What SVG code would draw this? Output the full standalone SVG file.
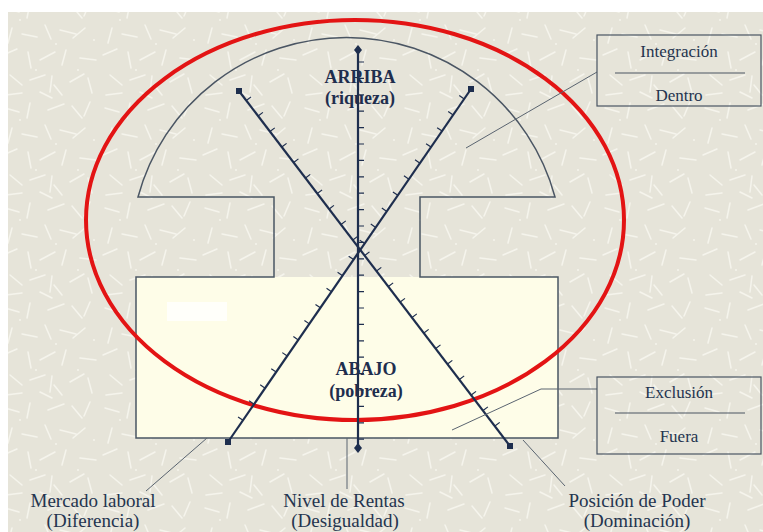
<svg xmlns="http://www.w3.org/2000/svg" width="763" height="532" viewBox="0 0 763 532">
<defs>
<pattern id="tex" width="100" height="100" patternUnits="userSpaceOnUse">
<rect width="100" height="100" fill="#E6E4D9"/>
<g stroke="#F7F6EF" stroke-width="1.5" stroke-linecap="round" opacity="0.9">
<path d="M5 8l14 4M30 3l-3 15M48 10l16 -6M72 6l10 12M90 2l-6 14M12 28l-4 15M22 34l15 3M45 25l6 14M60 30l16 4M85 28l-12 10M3 55l14 -6M28 52l3 16M40 60l15 -8M66 50l-4 15M80 58l16 2M10 75l12 10M30 80l15 -5M52 76l-2 16M70 82l14 -8M88 78l4 15M6 95l16 -2M40 92l12 6M62 95l-8 -10"/>
</g>
<g fill="#F7F6EF">
<circle cx="20" cy="20" r="0.9"/><circle cx="56" cy="44" r="0.9"/><circle cx="78" cy="70" r="0.9"/><circle cx="36" cy="70" r="0.9"/><circle cx="94" cy="40" r="0.9"/>
</g>
</pattern>
<style>
.frame{fill:none;stroke:#4A5563;stroke-width:1.5}
.axis{fill:none;stroke:#1E2E4E;stroke-width:2.2}
.tick{fill:none;stroke:#1E2E4E;stroke-width:1.2}
.end{fill:#1E2E4E}
.lead{fill:none;stroke:#5A6470;stroke-width:1}
.box{fill:none;stroke:#4A5563;stroke-width:1.2}
.t{font-family:"Liberation Serif","Times New Roman",serif;fill:#24344F;text-anchor:middle}
.b{font-weight:bold;font-size:18px;fill:#1E2E4E}
.s{font-size:17px}
.l{font-size:19px}
</style>
</defs>
<rect width="763" height="532" fill="#FFFFFF"/>
<rect x="8" y="12" width="755" height="520" fill="url(#tex)"/>

<g id="frame">
<rect x="136" y="277" width="422" height="161" fill="#FEFDE8"/>
<rect x="167" y="302" width="60" height="19" fill="#FFFFFA"/>
<path class="frame" d="M138 197 A216 216 0 0 1 555 197 L420 197 L420 277 L558 277 L558 438 L136 438 L136 277 L274 277 L274 197 Z"/>
</g>

<g id="red-ellipse">
<ellipse cx="355" cy="220" rx="269" ry="200" fill="none" stroke="#E31414" stroke-width="4"/>
</g>

<g id="axis-vertical">
<line class="axis" x1="358" y1="50" x2="358" y2="448" stroke-width="1.8"/>
<path class="tick" d="M358 62h6m-6 16.4h6m-6 16.4h6m-6 16.4h6m-6 16.4h6m-6 16.4h6m-6 16.4h6m-6 16.4h6m-6 16.4h6m-6 16.4h6m-6 16.4h6m-6 16.4h6m-6 16.4h6m-6 16.4h6m-6 16.4h6m-6 16.4h6m-6 16.4h6m-6 16.4h6m-6 16.4h6m-6 16.4h6m-6 16.4h6m-6 16.4h6m-6 16.4h6m-6 16.4h6"/>
<polygon class="end" points="358,45 362,50 358,55 354,50"/>
<polygon class="end" points="358,443 362,448 358,453 354,448"/>
</g>

<g id="axis-diagonal-1">
<line class="axis" x1="239" y1="91" x2="510" y2="446"/>
<path class="tick" d="M246.3 100.5l4.77 -3.64m7.07 19.14l4.77 -3.64m7.07 19.14l4.77 -3.64m7.07 19.14l4.77 -3.64m7.07 19.14l4.77 -3.64m7.07 19.14l4.77 -3.64m7.07 19.14l4.77 -3.64m7.07 19.14l4.77 -3.64m7.07 19.14l4.77 -3.64m7.07 19.14l4.77 -3.64m7.07 19.14l4.77 -3.64m7.07 19.14l4.77 -3.64m7.07 19.14l4.77 -3.64m7.07 19.14l4.77 -3.64m7.07 19.14l4.77 -3.64m7.07 19.14l4.77 -3.64m7.07 19.14l4.77 -3.64m7.07 19.14l4.77 -3.64m7.07 19.14l4.77 -3.64m7.07 19.14l4.77 -3.64m7.07 19.14l4.77 -3.64m7.07 19.14l4.77 -3.64"/>
<rect class="end" x="236" y="88" width="6" height="6"/>
<rect class="end" x="507" y="443" width="6" height="6"/>
</g>

<g id="axis-diagonal-2">
<line class="axis" x1="471" y1="89" x2="228" y2="442"/>
<path class="tick" d="M464.2 98.9l-4.94 -3.4m-6.12 19.47l-4.94 -3.4m-6.12 19.47l-4.94 -3.4m-6.12 19.47l-4.94 -3.4m-6.12 19.47l-4.94 -3.4m-6.12 19.47l-4.94 -3.4m-6.12 19.47l-4.94 -3.4m-6.12 19.47l-4.94 -3.4m-6.12 19.47l-4.94 -3.4m-6.12 19.47l-4.94 -3.4m-6.12 19.47l-4.94 -3.4m-6.12 19.47l-4.94 -3.4m-6.12 19.47l-4.94 -3.4m-6.12 19.47l-4.94 -3.4m-6.12 19.47l-4.94 -3.4m-6.12 19.47l-4.94 -3.4m-6.12 19.47l-4.94 -3.4m-6.12 19.47l-4.94 -3.4m-6.12 19.47l-4.94 -3.4m-6.12 19.47l-4.94 -3.4m-6.12 19.47l-4.94 -3.4"/>
<rect class="end" x="468" y="86" width="6" height="6"/>
<rect class="end" x="225" y="439" width="6" height="6"/>
</g>

<g id="connectors">
<path class="lead" d="M597 72 L466 148"/>
<path class="lead" d="M597 389 L541 389 L452 430"/>
<path class="lead" d="M207 438 L146 491"/>
<path class="lead" d="M347 438 L347 489"/>
<path class="lead" d="M523 440 L565 486"/>
</g>

<g id="arriba">
<text class="t b" x="360" y="83">ARRIBA</text>
<text class="t b" x="360" y="104">(riqueza)</text>
</g>

<g id="abajo">
<text class="t b" x="366" y="375">ABAJO</text>
<text class="t b" x="366" y="397">(pobreza)</text>
</g>

<g id="box-integracion">
<rect class="box" x="597" y="35" width="164" height="71"/>
<line class="box" x1="615" y1="73" x2="745" y2="73"/>
<text class="t s" x="679" y="57">Integración</text>
<text class="t s" x="679" y="101">Dentro</text>
</g>

<g id="box-exclusion">
<rect class="box" x="597" y="377" width="164" height="77"/>
<line class="box" x1="615" y1="413" x2="745" y2="413"/>
<text class="t s" x="679" y="398">Exclusión</text>
<text class="t s" x="679" y="442">Fuera</text>
</g>

<g id="label-mercado">
<text class="t l" x="93" y="507">Mercado laboral</text>
<text class="t l" x="93" y="527">(Diferencia)</text>
</g>

<g id="label-nivel">
<text class="t l" x="344" y="507">Nivel de Rentas</text>
<text class="t l" x="345" y="527">(Desigualdad)</text>
</g>

<g id="label-posicion">
<text class="t l" x="637" y="507">Posición de Poder</text>
<text class="t l" x="637" y="527">(Dominación)</text>
</g>
</svg>
